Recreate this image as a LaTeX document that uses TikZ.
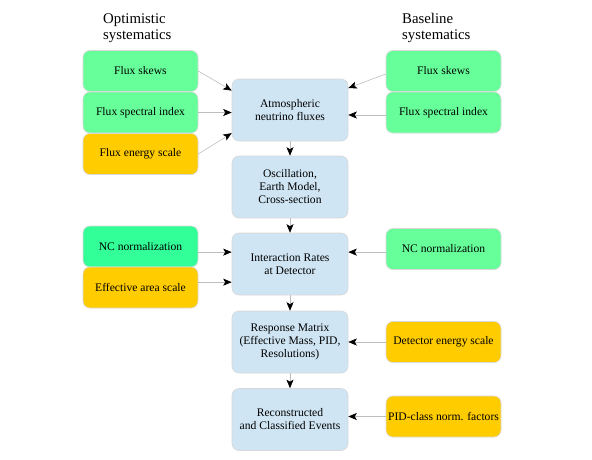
\documentclass[tikz,border=0pt]{standalone}
\usepackage{fontspec}
\setmainfont{Liberation Serif}
\usetikzlibrary{arrows.meta,calc}
\definecolor{gr}{HTML}{66FF99}
\definecolor{grb}{HTML}{33FF99}
\definecolor{org}{HTML}{FFCC00}
\definecolor{blu}{HTML}{CFE5F3}
\definecolor{edg}{HTML}{D8D8D8}
\definecolor{lin}{HTML}{BDBDBD}
\begin{document}
\begin{tikzpicture}[x=1pt,y=-1pt,
  box/.style={draw=edg,line width=0.6pt,rounded corners=7pt,minimum width=115pt,inner sep=0pt,align=center,font=\fontsize{11.6}{13}\selectfont},
  sbox/.style={box,minimum height=41pt},
  cbox/.style={box,fill=blu,minimum width=116pt,minimum height=62pt},
  title/.style={align=left,anchor=north west,inner sep=0pt,font=\fontsize{14.8}{16}\selectfont},
  arr/.style={draw=lin,line width=0.6pt,-{Stealth[black,length=8.5pt,width=7pt,inset=2pt]}}]
\useasboundingbox (0,0) rectangle (592,459);
% titles
\node[title] (tO) at (103,13) {Optimistic\\systematics};
\node[title] (tB) at (402,13) {Baseline\\systematics};
% center column
\node[cbox] (atm) at (290,110) {Atmospheric\\neutrino fluxes};
\node[cbox] (osc) at (290,187) {Oscillation,\\Earth Model,\\Cross-section};
\node[cbox] (int) at (290,264) {Interaction Rates\\at Detector};
\node[cbox] (res) at (290,342) {Response Matrix\\(Effective Mass, PID,\\Resolutions)};
\node[cbox] (rec) at (290,419.5) {Reconstructed\\and Classified Events};
% left column
\node[sbox,fill=gr] (skL) at (140.5,71) {Flux skews};
\node[sbox,fill=gr] (spL) at (140.5,112.5) {Flux spectral index};
\node[sbox,fill=org] (enL) at (140.5,154) {Flux energy scale};
\node[sbox,fill=grb] (ncL) at (140.5,246.5) {NC normalization};
\node[sbox,fill=org] (eaL) at (140.5,287.5) {Effective area scale};
% right column
\node[sbox,fill=gr] (skR) at (443.5,71) {Flux skews};
\node[sbox,fill=gr] (spR) at (443.5,112.5) {Flux spectral index};
\node[sbox,fill=gr] (ncR) at (443.5,249) {NC normalization};
\node[sbox,fill=org] (deR) at (443.5,342) {Detector energy scale};
\node[sbox,fill=org] (pidR) at (443.5,416.5) {PID-class norm. factors};
% ports
\coordinate (aW1) at ($(atm.north west)!0.19!(atm.south west)$);
\coordinate (aW3) at ($(atm.north west)!0.87!(atm.south west)$);
\coordinate (aE1) at ($(atm.north east)!0.15!(atm.south east)$);
\coordinate (iW1) at ($(int.north west)!0.31!(int.south west)$);
\coordinate (iW2) at ($(int.north west)!0.79!(int.south west)$);
% vertical arrows
\draw[arr] (atm) -- (osc);
\draw[arr] (osc) -- (int);
\draw[arr] (int) -- (res);
\draw[arr] (res) -- (rec);
% left arrows
\draw[arr] (skL.east) -- (aW1);
\draw[arr] (spL.east) -- (spL.east -| atm.west);
\draw[arr] (enL.east) -- (aW3);
\draw[arr] (ncL.east |- iW1) -- (iW1);
\draw[arr] (eaL.east |- iW2) -- (iW2);
% right arrows
\draw[arr] ([yshift=-3pt]skR.west) -- (aE1);
\draw[arr] ([yshift=-2.5pt]spR.west) -- ([yshift=-2.5pt]spR.west -| atm.east);
\draw[arr] (ncR.west |- iW1) -- (iW1 -| int.east);
\draw[arr] (deR.west) -- (deR.west -| res.east);
\draw[arr] (pidR.west) -- (pidR.west -| rec.east);
\end{tikzpicture}
\end{document}
